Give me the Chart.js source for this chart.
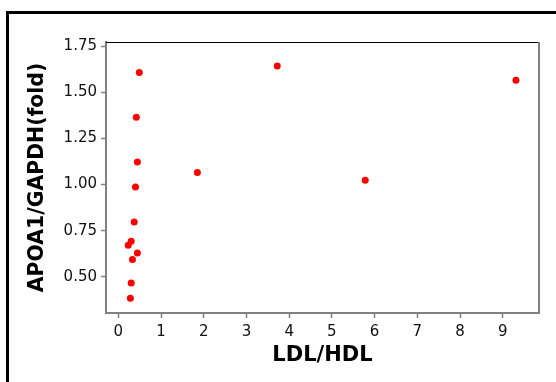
<!DOCTYPE html>
<html>
<head>
<meta charset="utf-8">
<script src="https://cdn.jsdelivr.net/npm/chart.js@4.4.1/dist/chart.umd.min.js"></script>
<style>
  html, body { margin: 0; padding: 0; background: #fff; }
  #wrap { position: relative; width: 556px; height: 382px; overflow: hidden; }
  #frame { position: absolute; left: 6px; top: 11px; width: 700px; height: 500px;
           border-top: 3px solid #000; border-left: 3px solid #000; box-sizing: border-box; }
  canvas { position: absolute; left: 0; top: 0; }
</style>
</head>
<body>
<div id="wrap">
  <div id="frame"></div>
  <canvas id="c" width="556" height="382"></canvas>
</div>
<script>
// Data
const ldlHdl = [0.49, 0.42, 0.445, 0.40, 0.37, 0.30, 0.23, 0.445, 0.33, 0.30, 0.28, 1.85, 3.72, 5.78, 9.31];
const apoa1  = [1.608, 1.366, 1.123, 0.987, 0.797, 0.692, 0.671, 0.629, 0.593, 0.466, 0.383, 1.065, 1.644, 1.024, 1.567];
const xTicks = [0, 1, 2, 3, 4, 5, 6, 7, 8, 9];
const yTicks = [0.50, 0.75, 1.00, 1.25, 1.50, 1.75];
const xTitle = 'LDL/HDL';
const yTitle = 'APOA1/GAPDH(fold)';

const points = ldlHdl.map((x, i) => ({ x: x, y: apoa1[i] }));

const frameRest = {
  id: 'frameRest',
  afterDraw(chart) {
    const { ctx, chartArea: a } = chart;
    ctx.save();
    ctx.strokeStyle = '#000';
    ctx.lineWidth = 1;
    ctx.beginPath();
    ctx.moveTo(a.left, a.top + 0.5);
    ctx.lineTo(a.right, a.top + 0.5);
    ctx.stroke();
    ctx.strokeStyle = '#808080';
    ctx.lineWidth = 2;
    ctx.beginPath();
    ctx.moveTo(a.right, a.top);
    ctx.lineTo(a.right, a.bottom);
    ctx.stroke();
    ctx.restore();
  }
};

const tickFont = { family: 'DejaVu Sans', size: 15 };
const xTitleFont = { family: 'DejaVu Sans', size: 21, weight: 'bold' };
const yTitleFont = { family: 'DejaVu Sans', size: 20.4, weight: 'bold' };

new Chart(document.getElementById('c'), {
  type: 'scatter',
  data: {
    datasets: [{
      data: points,
      backgroundColor: '#ff0000',
      borderWidth: 0,
      pointRadius: 3.5,
      pointHoverRadius: 3.5
    }]
  },
  options: {
    responsive: false,
    animation: false,
    events: [],
    layout: { padding: { top: 42, right: 17, left: 0, bottom: 0 } },
    plugins: { legend: { display: false }, tooltip: { enabled: false } },
    scales: {
      x: {
        type: 'linear',
        min: -0.29,
        max: 9.85,
        afterFit: s => { s.height = 69; },
        afterBuildTicks: s => { s.ticks = xTicks.map(v => ({ value: v })); },
        grid: { drawOnChartArea: false, tickLength: 5, tickColor: '#808080', tickWidth: 1.5 },
        border: { color: '#808080', width: 2 },
        ticks: { font: tickFont, color: '#111', padding: 5, maxRotation: 0, callback: v => String(v) },
        title: { display: true, text: xTitle, font: xTitleFont, color: '#000', padding: { bottom: 14, top: 0 } }
      },
      y: {
        type: 'linear',
        min: 0.303,
        max: 1.774,
        afterFit: s => { s.width = 106; },
        afterBuildTicks: s => { s.ticks = yTicks.map(v => ({ value: v })); },
        grid: { drawOnChartArea: false, tickLength: 5, tickColor: '#808080', tickWidth: 1.5 },
        border: { color: '#808080', width: 2 },
        ticks: { font: tickFont, color: '#111', padding: 4, callback: v => v.toFixed(2) },
        title: { display: true, text: yTitle, font: yTitleFont, color: '#000', padding: { top: 25, bottom: 0 } }
      }
    }
  },
  plugins: [frameRest]
});
</script>
</body>
</html>
